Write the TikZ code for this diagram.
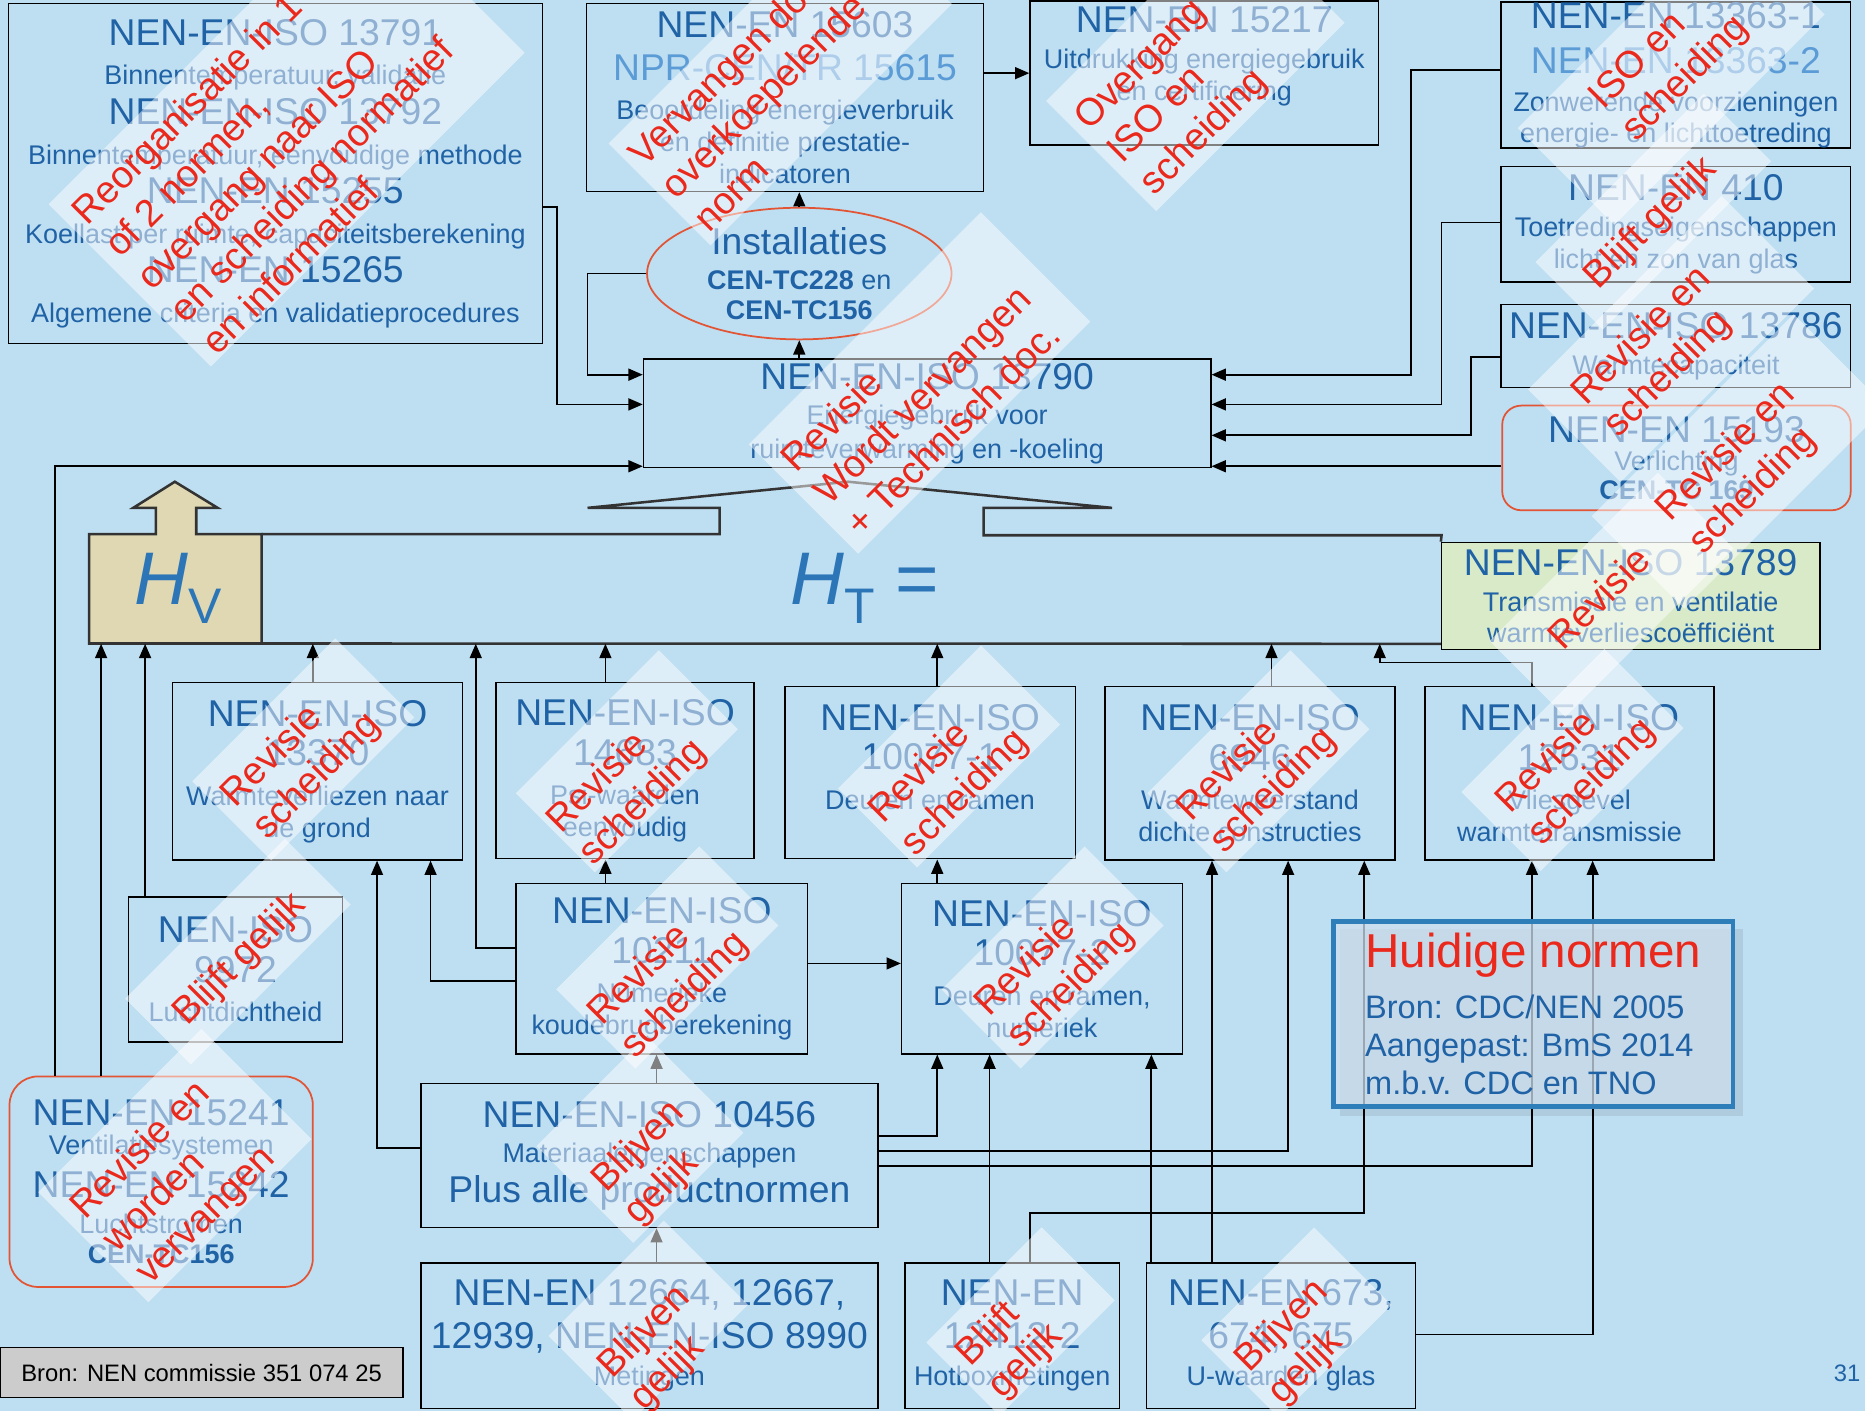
\documentclass[tikz,border=0pt]{standalone}
\usepackage{fontspec}
\setmainfont{Liberation Sans}
\usetikzlibrary{arrows.meta, positioning, shapes.geometric}

\definecolor{slidebg}{RGB}{190,222,241}
\definecolor{nenblue}{RGB}{31,98,165}
\definecolor{nenlight}{RGB}{92,156,214}
\definecolor{stampred}{RGB}{234,40,28}
\definecolor{ovalred}{RGB}{226,84,52}
\definecolor{hvfill}{RGB}{224,216,179}
\definecolor{greenfill}{RGB}{216,234,200}
\definecolor{htblue}{RGB}{44,118,184}
\definecolor{frameblue}{RGB}{46,126,186}
\definecolor{notefill}{RGB}{206,222,238}
\definecolor{bronfill}{RGB}{204,204,204}

\newdimen\ux \ux=0.75pt
\newcommand\nn[1]{{\fontsize{23.5}{25}\selectfont #1}}
\tikzset{boxsize/.style 2 args={minimum width=#1\ux, minimum height=#2\ux}}

\begin{document}
\begin{tikzpicture}[x=0.75pt, y=-0.75pt, >={Triangle[length=9pt, width=7.5pt]}]
	\tikzstyle{norm} = [draw=black, line width=0.9pt, fill=slidebg, rectangle, inner sep=0pt, align=center, text=nenblue, font=\fontsize{17}{25}\selectfont]
	\tikzstyle{redround} = [norm, draw=ovalred, line width=1.1pt, rounded corners=12pt]
	\tikzstyle{link} = [->, line width=1.1pt]
	\tikzstyle{htline} = [line width=1.6pt, draw=black!80]
	\tikzstyle{big} = [inner sep=0pt, text=htblue, font=\fontsize{47}{47}\selectfont]
	\tikzstyle{patch} = [rectangle, fill=white, fill opacity=0.5, inner sep=0pt, rotate=45]
	\tikzstyle{stamp} = [rotate=45, anchor=north west, align=left, inner sep=0pt, text=stampred, font=\fontsize{24}{29}\selectfont]

	\useasboundingbox (0,0) rectangle (1568,1186);
	\clip (0,0) rectangle (1568,1186);
	\fill[slidebg] (0,0) rectangle (1568,1186);

	% norms feeding 13790
	\node[norm, boxsize={449}{286}] (n13791) at (231.5,146) {\nn{NEN-EN-ISO 13791}\\ Binnentemperatuur, validatie\\ \nn{NEN-EN-ISO 13792}\\ Binnentemperatuur, eenvoudige methode\\ \nn{NEN-EN 15255}\\ Koellast per ruimte, capaciteitsberekening\\ \nn{NEN-EN 15265}\\ Algemene criteria en validatieprocedures};
	\node[norm, boxsize={334}{158}] (n15603) at (660,82) {\nn{NEN-EN 15603}\\[2pt] \nn{\color{nenlight}NPR-CEN/TR 15615}\\ Beoordeling energieverbruik\\[-5pt] en definitie prestatie-\\[-5pt] indicatoren};
	\node[norm, boxsize={293}{121}] (n15217) at (1012.5,61.5) {\nn{NEN-EN 15217}\\[-2.5pt] Uitdrukking energiegebruik\\[-5pt] en certificering\\ ~};
	\node[norm, boxsize={294}{122}] (n13363) at (1409,63) {\nn{NEN-EN 13363-1}\\[3.5pt] \nn{\color{nenlight}NEN-EN 13363-2}\\[-1pt] Zonwerende voorzieningen\\[-5.5pt] energie- en lichttoetreding};
	\node[norm, boxsize={294}{97}] (n410) at (1409,188.5) {\nn{NEN-EN 410}\\[-2.5pt] Toetredingseigenschappen\\[-5pt] licht en zon van glas};
	\node[norm, boxsize={294}{70}] (n13786) at (1409,291) {\nn{NEN-EN-ISO 13786}\\[-2.5pt] Warmtecapaciteit};
	\node[redround, boxsize={293}{88}] (n15193) at (1409.5,385) {\nn{NEN-EN 15193}\\[-7pt] Verlichting\\[-7pt] \textbf{CEN-TC 169}};
	\node[norm, ellipse, draw=ovalred, line width=1.1pt, boxsize={256}{90}] (inst) at (672,230) {\nn{Installaties}\\[-2.5pt] \textbf{CEN-TC228} en\\[-6pt] \textbf{CEN-TC156}};
	\node[norm, boxsize={477}{91}] (n13790) at (779.5,347.5) {\nn{NEN-EN-ISO 13790}\\[-2.5pt] Energiegebruik voor\\[-4pt] ruimteverwarming en -koeling};

	% H_T band and H_V
	\node[inner sep=0pt, boxsize={1137}{92}] (htband) at (643.5,495) {};
	\filldraw[fill=hvfill, htline] (75,541) -- (75,449) -- (131,449) -- (131,427) -- (112,427) -- (147,405) -- (183,427) -- (165,427) -- (165,449) -- (220,449) -- (220,541) -- cycle;
	\node[big, boxsize={145}{92}] (hv) at (150,495) {\textit{H}\raisebox{-12pt}{\fontsize{31.5}{31.5}\selectfont V}};
	\node[norm, fill=greenfill, boxsize={318}{90}] (n13789) at (1371,501) {\nn{NEN-EN-ISO 13789}\\[-2.5pt] Transmissie en ventilatie\\[-5.5pt] warmteverliescoëfficiënt};
	\draw[htline] (220,449) -- (605,449) -- (605,427) -- (494,427) -- (713,405) -- (935,427) -- (827,427) -- (827,450) -- (1212,450) -- (n13789.north west);
	\draw[htline] (220,541) -- (n13789.south west |- htband.south);
	\node[big] (htlab) at (727,495) {\textit{H}\raisebox{-12pt}{\fontsize{31.5}{31.5}\selectfont T} =};

	% component norms
	\node[norm, boxsize={244}{149}] (n13370) at (267,648.5) {\nn{NEN-EN-ISO}\\ \nn{13370}\\ Warmteverliezen naar\\[-5pt] de grond};
	\node[norm, boxsize={217}{148}] (n14683) at (525.5,648) {\nn{NEN-EN-ISO}\\ \nn{14683}\\ Psi-waarden\\[-5pt] eenvoudig};
	\node[norm, boxsize={244}{145}] (n10077a) at (782,649.5) {\nn{NEN-EN-ISO}\\ \nn{10077-1}\\ Deuren en ramen\\[-5pt] ~};
	\node[norm, boxsize={244}{146}] (n6946) at (1051,650) {\nn{NEN-EN-ISO}\\ \nn{6946}\\ Warmteweerstand\\[-5pt] dichte constructies};
	\node[norm, boxsize={243}{146}] (n12631) at (1319.5,650) {\nn{NEN-EN-ISO}\\ \nn{12631}\\ Vliesgevel\\[-5pt] warmtetransmissie};

	\node[norm, boxsize={180}{122}] (n9972) at (198,815) {\nn{NEN-ISO}\\ \nn{9972}\\ Luchtdichtheid};
	\node[norm, boxsize={245}{143}] (n10211) at (556.5,814.5) {\nn{NEN-EN-ISO}\\ \nn{10211}\\ Numerieke\\[-5pt] koudebrugberekening};
	\node[norm, boxsize={236}{143}] (n10077b) at (876,814.5) {\nn{NEN-EN-ISO}\\ \nn{10077-2}\\ Deuren en ramen,\\[-5pt] numeriek};

	\node[redround, rounded corners=18pt, boxsize={255}{177}] (n15241) at (135.5,993.5) {\nn{NEN-EN 15241}\\[-7pt] Ventilatiesystemen\\[2pt] \nn{NEN-EN 15242}\\[-2.5pt] Luchtstromen\\[-6pt] \textbf{CEN-TC156}};
	\node[norm, boxsize={384}{121}] (n10456) at (546,971.5) {\nn{NEN-EN-ISO 10456}\\[-2.5pt] Materiaaleigenschappen\\ \nn{Plus alle productnormen}};
	\node[norm, boxsize={384}{122}] (n12664) at (546,1123) {\nn{NEN-EN 12664, 12667,}\\[2pt] \nn{12939, NEN-EN-ISO 8990}\\[-1.5pt] Metingen};
	\node[norm, boxsize={180}{122}] (n12412) at (851,1123) {\nn{NEN-EN}\\[2pt] \nn{12412-2}\\[-1.5pt] Hotboxmetingen};
	\node[norm, boxsize={226}{122}] (n673) at (1077,1123) {\nn{NEN-EN 673,}\\[2pt] \nn{674, 675}\\[-1.5pt] U-waarden glas};

	\node[draw=black, line width=1.1pt, fill=bronfill, inner sep=0pt, boxsize={339}{42}, font=\fontsize{15}{15}\selectfont] (bron) at (169.5,1154) {Bron: NEN commissie 351 074 25};
	\node[text=nenblue, font=\fontsize{15}{15}\selectfont] (pagenr) at (1553,1155) {31};

	% straight connectors
	\path[link]
	(n15603.east |- n15217.west)	edge	(n15217.west)
	(inst.north)	edge	(inst.north |- n15603.south)
	(inst.south |- n13790.north)	edge	(inst.south)
	(n15193.west |- 0,392)	edge	(n13790.east |- 0,392)
	(n15241.north -| 85,0)	edge	(htband.south -| 85,0)
	(n9972.north -| 122,0)	edge	(htband.south -| 122,0)
	(n13370.north -| 263,0)	edge	(htband.south -| 263,0)
	(n14683.north -| 509,0)	edge	(htband.south -| 509,0)
	(n10077a.north -| 788,0)	edge	(htband.south -| 788,0)
	(n6946.north -| 1069,0)	edge	(htband.south -| 1069,0)
	(n10211.north -| 509,0)	edge	(n14683.south -| 509,0)
	(n10211.east |- 0,810)	edge	(n10077b.west |- 0,810)
	(n10077b.north -| 788,0)	edge	(n10077a.south -| 788,0)
	(n10456.north -| 552,0)	edge	(n10211.south -| 552,0)
	(n12664.north -| 552,0)	edge	(n10456.south -| 552,0)
	(n12412.north -| 832,0)	edge	(n10077b.south -| 832,0)
	(n673.north -| 968,0)	edge	(n10077b.south -| 968,0)
	(n673.north -| 1019,0)	edge	(n6946.south -| 1019,0);

	% elbow connectors
	\draw[link] (inst.west) -| (494,315) -- (n13790.west |- 0,315);
	\draw[link] (n13791.east |- 0,174) -| (468,340) -- (n13790.west |- 0,340);
	\draw[link] (n15241.north -| 46,0) |- (n13790.west |- 0,392);
	\draw[link] (n13363.west |- 0,59) -| (1186,315) -- (n13790.east |- 0,315);
	\draw[link] (n410.west |- 0,187) -| (1212,340) -- (n13790.east |- 0,340);
	\draw[link] (n13786.west |- 0,300) -| (1237,366) -- (n13790.east |- 0,366);
	\draw[link] (n10211.west |- 0,797) -| (htband.south -| 400,0);
	\draw[link] (n10211.west |- 0,825) -| (n13370.south -| 362,0);
	\draw[link] (n10456.west |- 0,965) -| (n13370.south -| 317,0);
	\draw[link] (n12631.north -| 1288,0) |- (1160,557) -- (htband.south -| 1160,0);
	\draw[link] (n10456.east |- 0,955) -| (n10077b.south -| 788,0);
	\draw[link] (n10456.east |- 0,968) -| (n6946.south -| 1083,0);
	\draw[link] (n10456.east |- 0,980) -| (n12631.south -| 1288,0);
	\draw[link] (n12412.north -| 866,0) |- (1147,1020) -- (n6946.south -| 1147,0);
	\draw[link] (n673.east |- 0,1122) -| (n12631.south -| 1339,0);

	% note box
	\fill[black, opacity=0.08] (1127,781) rectangle (1465,938);
	\node[draw=frameblue, line width=3pt, fill=notefill, fill opacity=0.75, text opacity=1, inner sep=0pt, align=left, text=nenblue, boxsize={336}{155}, font=\fontsize{20.5}{24}\selectfont] (huidig) at (1289,852.5) {{\fontsize{30}{30}\selectfont\color{stampred}Huidige normen}\\[8pt] Bron: CDC/NEN 2005\\ Aangepast: BmS 2014\\ m.b.v. CDC en TNO};

	% white patches
	\node[patch, boxsize={373}{193}] (p1) at (241,108) {};
	\node[patch, boxsize={287}{121}] (p2) at (656,62) {};
	\node[patch, boxsize={224}{131}] (p3) at (1005,52) {};
	\node[patch, boxsize={250}{115}] (p4) at (1405,60) {};
	\node[patch, boxsize={200}{80}] (p5) at (1390,178) {};
	\node[patch, boxsize={230}{110}] (p6) at (1405,285) {};
	\node[patch, boxsize={240}{110}] (p7) at (1462,388) {};
	\node[patch, boxsize={276}{130}] (p8) at (773,322) {};
	\node[patch, boxsize={200}{90}] (p9) at (1355,500) {};
	\node[patch, boxsize={170}{94}] (p10) at (255,630) {};
	\node[patch, boxsize={170}{94}] (p11) at (527,640) {};
	\node[patch, boxsize={170}{94}] (p12) at (798,636) {};
	\node[patch, boxsize={170}{94}] (p13) at (1058,640) {};
	\node[patch, boxsize={170}{94}] (p14) at (1322,639) {};
	\node[patch, boxsize={190}{78}] (p15) at (200,800) {};
	\node[patch, boxsize={170}{94}] (p16) at (561,805) {};
	\node[patch, boxsize={170}{94}] (p17) at (885,805) {};
	\node[patch, boxsize={194}{131}] (p18) at (147,980) {};
	\node[patch, boxsize={131}{115}] (p19) at (538,958) {};
	\node[patch, boxsize={137}{100}] (p20) at (545,1110) {};
	\node[patch, boxsize={137}{87}] (p21) at (858,1111) {};
	\node[patch, boxsize={134}{92}] (p22) at (1090,1112) {};

	% red remarks
	\node[stamp] (s1) at (57,174) {Reorganisatie in 1\\of 2 normen,\\overgang naar ISO\\en scheiding normatief\\en informatief};
	\node[stamp] (s2) at (525,125) {Vervangen door\\overkoepelende\\norm};
	\node[stamp] (s3) at (900,95) {Overgang\\ISO en\\scheiding};
	\node[stamp] (s4) at (1332,77) {ISO en\\scheiding};
	\node[stamp] (s5) at (1327,228) {Blijft gelijk};
	\node[stamp] (s6) at (1317,325) {Revisie en\\scheiding};
	\node[stamp] (s7) at (1388,423) {Revisie en\\scheiding};
	\node[stamp] (s8) at (653,382) {Revisie\\Wordt vervangen\\+ Technisch doc.};
	\node[stamp] (s9) at (1298,531) {Revisie};
	\node[stamp] (s10) at (181,663) {Revisie\\scheiding};
	\node[stamp] (s11) at (455,685) {Revisie\\scheiding};
	\node[stamp] (s12) at (726,677) {Revisie\\scheiding};
	\node[stamp] (s13) at (985,675) {Revisie\\scheiding};
	\node[stamp] (s14) at (1253,668) {Revisie\\scheiding};
	\node[stamp] (s15) at (141,847) {Blijft gelijk};
	\node[stamp] (s16) at (490,847) {Revisie\\scheiding};
	\node[stamp] (s17) at (815,839) {Revisie\\scheiding};
	\node[stamp] (s18) at (55,1010) {Revisie en\\worden\\vervangen};
	\node[stamp] (s19) at (493,987) {Blijven\\gelijk};
	\node[stamp] (s20) at (498,1143) {Blijven\\gelijk};
	\node[stamp] (s21) at (799,1133) {Blijft\\gelijk};
	\node[stamp] (s22) at (1034,1138) {Blijven\\gelijk};
\end{tikzpicture}
\end{document}
